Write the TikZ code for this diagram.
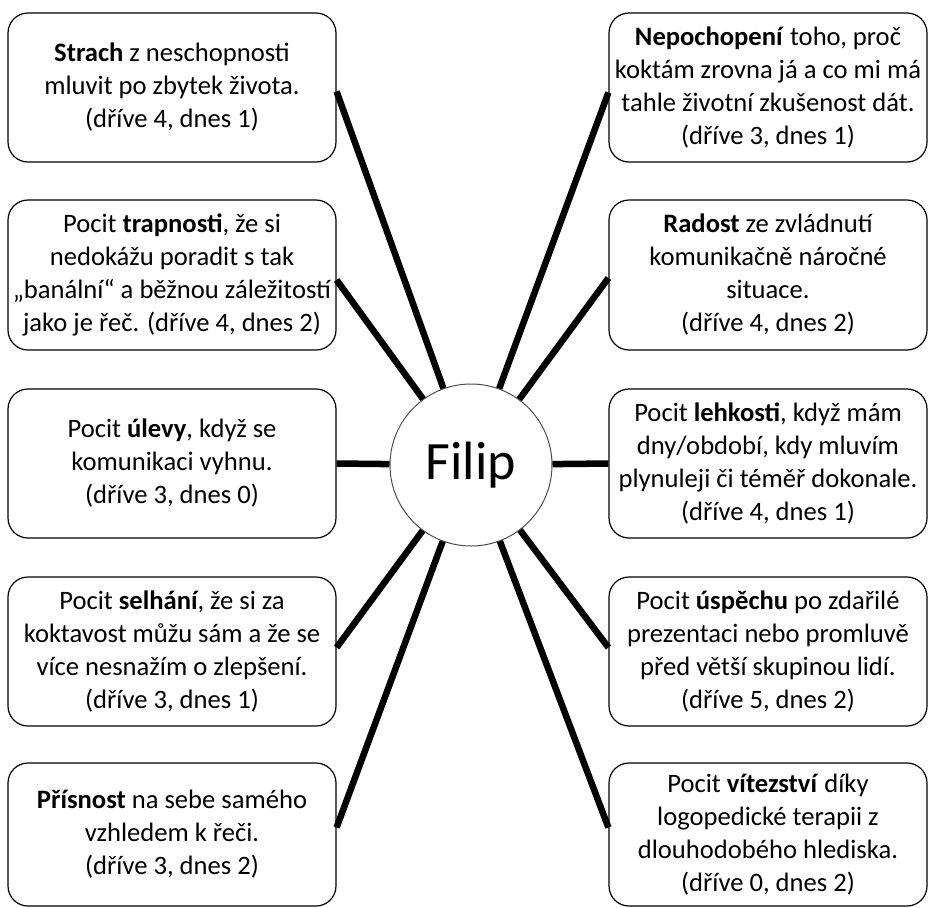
\documentclass[tikz,border=0pt]{standalone}
\usepackage{fontspec}
\setmainfont{Carlito}
\usepackage{tikz}
\tikzset{
  feel/.style={draw,rounded corners=20pt,line width=1.2pt,inner sep=0pt,
    align=center,minimum height=149pt,minimum width=#1,
    font=\fontsize{26.6}{33}\selectfont},
  feel/.default=328pt,
  hub/.style={circle,draw=black!70,line width=1pt,minimum size=162pt,inner sep=0pt,
    font=\fontsize{54}{60}\selectfont},
  spoke/.style={line width=6.5pt}
}

\begin{document}
\begin{tikzpicture}[x=1pt,y=-1pt]
    \useasboundingbox (0,0) rectangle (930,908);

    \node [hub] (filip) at (471,465) {Filip};

    % left column
    \node [feel] (L1) at (172,87.5) {\textbf{Strach} z neschopnosti\\mluvit po zbytek života.\\(dříve 4, dnes 1)};
    \node [feel, minimum height=150pt] (L2) at (172,275) {Pocit \textbf{trapnosti}, že si\\nedokážu poradit s tak\\„banální“ a běžnou záležitostí\\jako je řeč. (dříve 4, dnes 2)};
    \node [feel] (L3) at (172,463.5) {Pocit \textbf{úlevy}, když se\\komunikaci vyhnu.\\(dříve 3, dnes 0)};
    \node [feel] (L4) at (172,651.5) {Pocit \textbf{selhání}, že si za\\koktavost můžu sám a že se\\více nesnažím o zlepšení.\\(dříve 3, dnes 1)};
    \node [feel, minimum height=143pt] (L5) at (172,834.5) {\textbf{Přísnost} na sebe samého\\vzhledem k řeči.\\(dříve 3, dnes 2)};

    % right column
    \node [feel=318pt] (R1) at (768,87.5) {\textbf{Nepochopení} toho, proč\\koktám zrovna já a co mi má\\tahle životní zkušenost dát.\\(dříve 3, dnes 1)};
    \node [feel=318pt, minimum height=150pt] (R2) at (768,275) {\textbf{Radost} ze zvládnutí\\komunikačně náročné\\situace.\\(dříve 4, dnes 2)};
    \node [feel=318pt] (R3) at (768,463.5) {Pocit \textbf{lehkosti}, když mám\\dny/období, kdy mluvím\\plynuleji či téměř dokonale.\\(dříve 4, dnes 1)};
    \node [feel=318pt] (R4) at (768,651.5) {Pocit \textbf{úspěchu} po zdařilé\\prezentaci nebo promluvě\\před větší skupinou lidí.\\(dříve 5, dnes 2)};
    \node [feel=318pt, minimum height=143pt] (R5) at (768,834.5) {Pocit \textbf{vítezství} díky\\logopedické terapii z\\dlouhodobého hlediska.\\(dříve 0, dnes 2)};

    \draw [spoke] ([yshift=-4pt]L1.east) -- (filip);
    \draw [spoke] ([yshift=-5pt]L2.east) -- (filip);
    \draw [spoke] (L3.east) -- (filip);
    \draw [spoke] ([yshift=4pt]L4.east) -- (filip);
    \draw [spoke] ([yshift=7pt]L5.east) -- (filip);
    \draw [spoke] ([yshift=-5pt]R1.west) -- (filip);
    \draw [spoke] ([yshift=-3pt]R2.west) -- (filip);
    \draw [spoke] (R3.west) -- (filip);
    \draw [spoke] ([yshift=4pt]R4.west) -- (filip);
    \draw [spoke] ([yshift=7pt]R5.west) -- (filip);
\end{tikzpicture}
\end{document}
